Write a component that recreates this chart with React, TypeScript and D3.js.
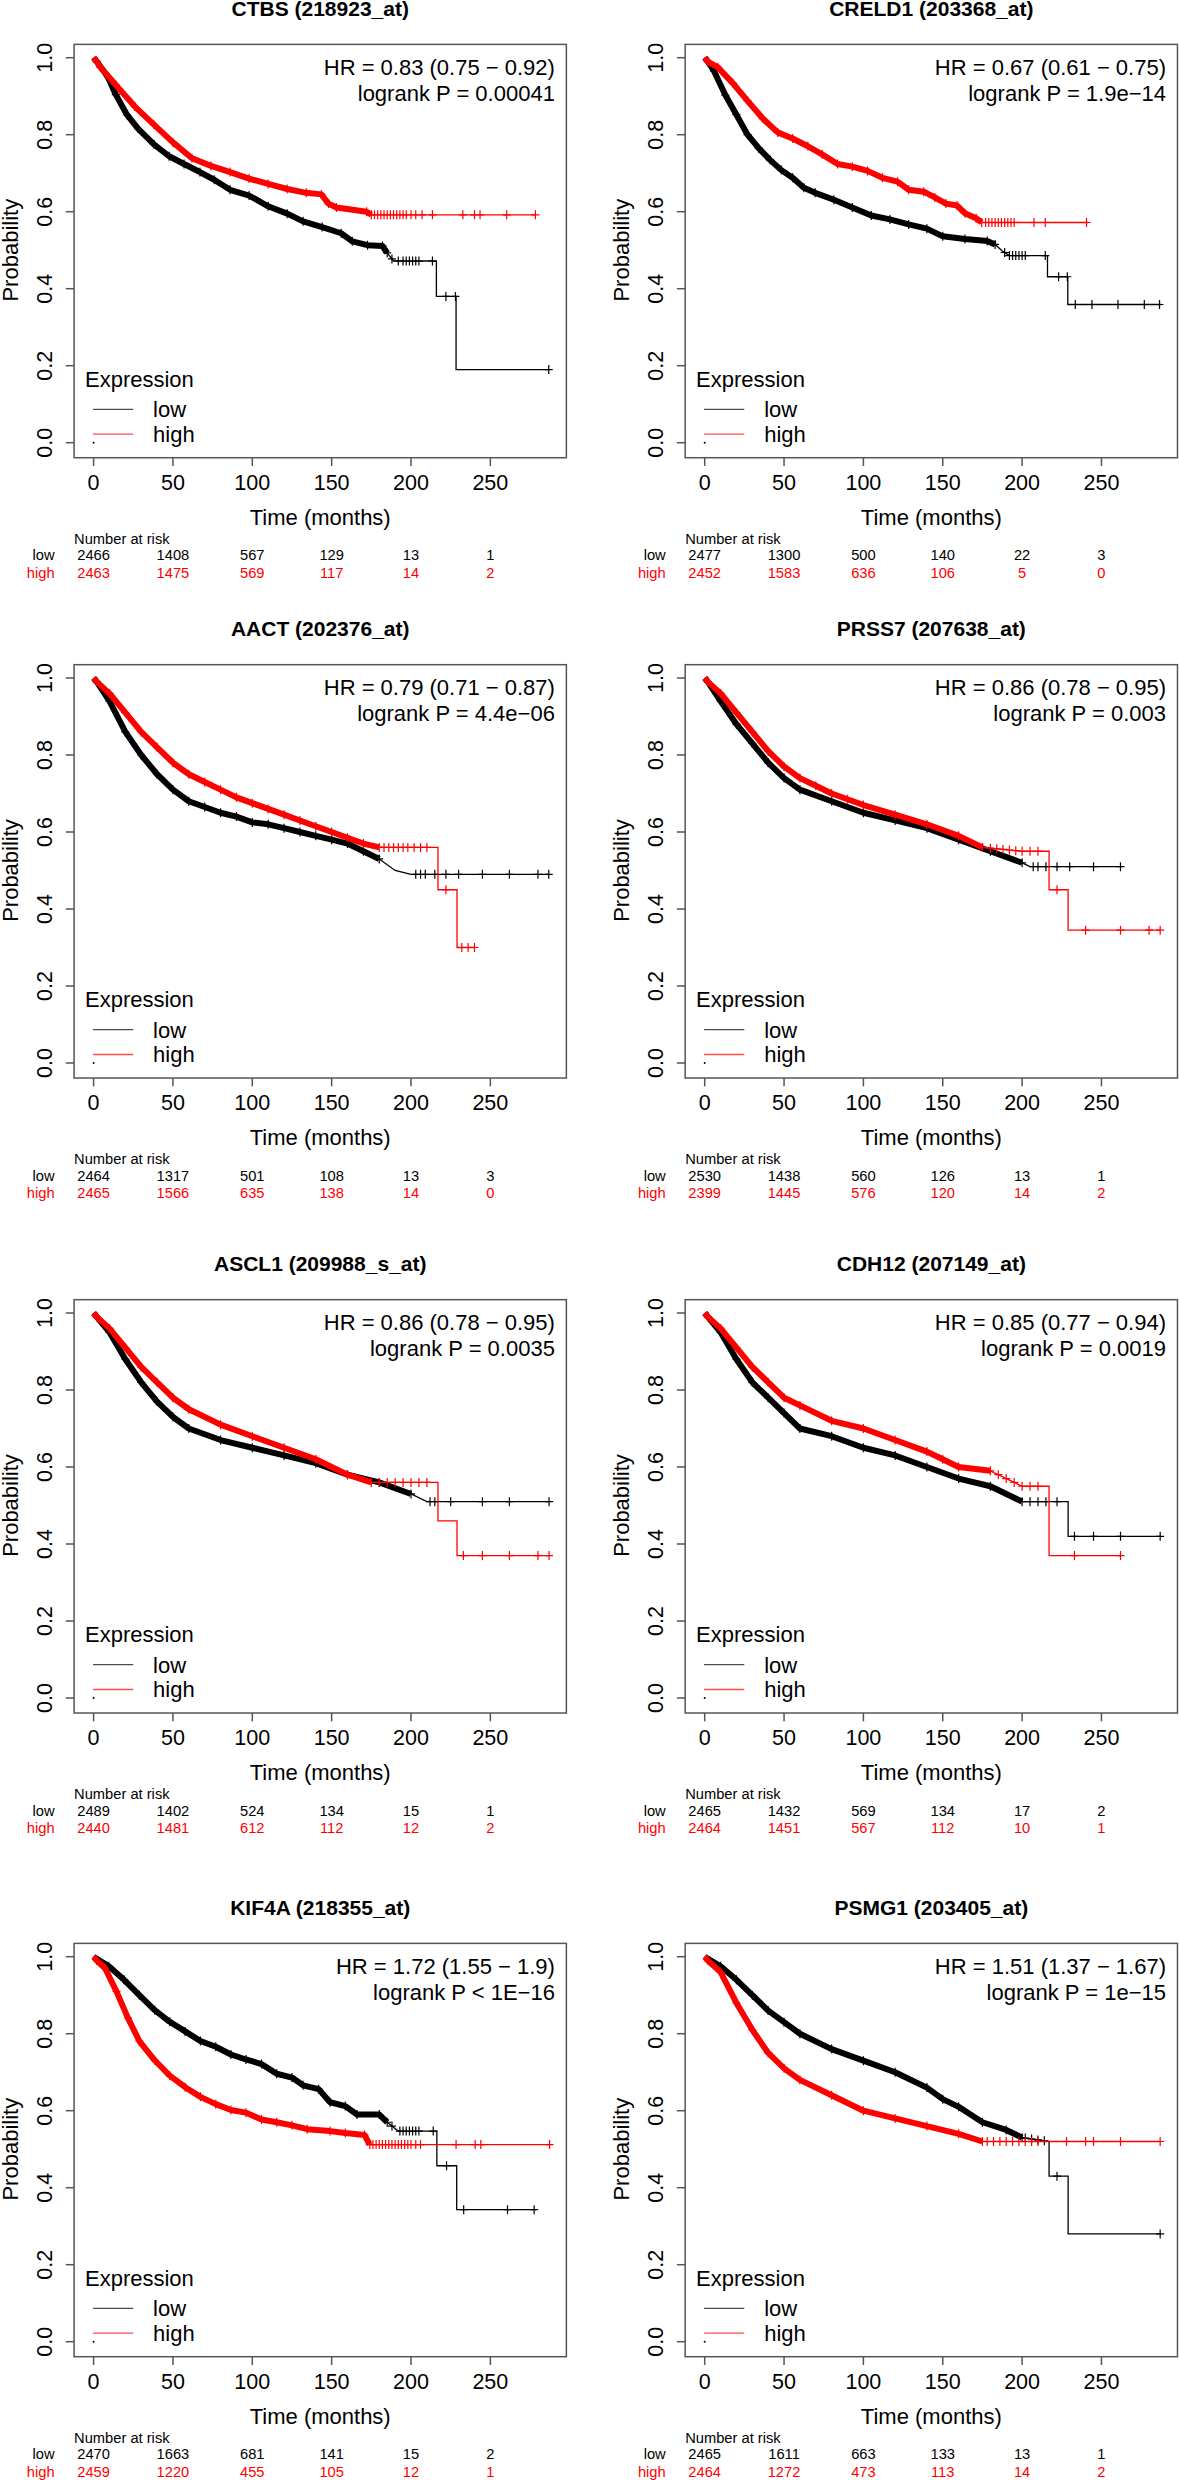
import React from "react";
import * as d3 from "d3";

type Pt = [number, number];

// ---------- text content ----------
const panelTitles = [
  "CTBS (218923_at)",
  "CRELD1 (203368_at)",
  "AACT (202376_at)",
  "PRSS7 (207638_at)",
  "ASCL1 (209988_s_at)",
  "CDH12 (207149_at)",
  "KIF4A (218355_at)",
  "PSMG1 (203405_at)",
];
const hrLabels = [
  "HR = 0.83 (0.75 \u2212 0.92)",
  "HR = 0.67 (0.61 \u2212 0.75)",
  "HR = 0.79 (0.71 \u2212 0.87)",
  "HR = 0.86 (0.78 \u2212 0.95)",
  "HR = 0.86 (0.78 \u2212 0.95)",
  "HR = 0.85 (0.77 \u2212 0.94)",
  "HR = 1.72 (1.55 \u2212 1.9)",
  "HR = 1.51 (1.37 \u2212 1.67)",
];
const pLabels = [
  "logrank P = 0.00041",
  "logrank P = 1.9e\u221214",
  "logrank P = 4.4e\u221206",
  "logrank P = 0.003",
  "logrank P = 0.0035",
  "logrank P = 0.0019",
  "logrank P < 1E\u221216",
  "logrank P = 1e\u221215",
];
const xTicks = [0, 50, 100, 150, 200, 250];
const yTicks = [0, 0.2, 0.4, 0.6, 0.8, 1.0];
const riskTimes = [0, 50, 100, 150, 200, 250];

// ---------- numbers at risk ----------
const riskLow = [
  [2466, 1408, 567, 129, 13, 1],
  [2477, 1300, 500, 140, 22, 3],
  [2464, 1317, 501, 108, 13, 3],
  [2530, 1438, 560, 126, 13, 1],
  [2489, 1402, 524, 134, 15, 1],
  [2465, 1432, 569, 134, 17, 2],
  [2470, 1663, 681, 141, 15, 2],
  [2465, 1611, 663, 133, 13, 1],
];
const riskHigh = [
  [2463, 1475, 569, 117, 14, 2],
  [2452, 1583, 636, 106, 5, 0],
  [2465, 1566, 635, 138, 14, 0],
  [2399, 1445, 576, 120, 14, 2],
  [2440, 1481, 612, 112, 12, 2],
  [2464, 1451, 567, 112, 10, 1],
  [2459, 1220, 455, 105, 12, 1],
  [2464, 1272, 473, 113, 14, 2],
];

// ---------- survival curves (time in months, probability) ----------
// CTBS
const ctbsLow: Pt[] = [[0,1],[2,0.99],[9,0.95],[14,0.904],[21,0.852],[28,0.816],[38,0.775],[47.6,0.744],[57,0.724],[67,0.703],[76,0.683],[86,0.657],[98,0.642],[110,0.614],[122,0.595],[132,0.575],[144,0.56],[156,0.544],[163,0.523],[172.6,0.513],[182,0.511],[185,0.493],[189,0.472],[216,0.472],[216,0.38],[228.4,0.38],[228.4,0.19],[286.8,0.19]];
const ctbsHigh: Pt[] = [[0,1],[2,0.99],[4.3,0.975],[14,0.929],[26,0.873],[38,0.826],[50,0.78],[62,0.739],[74,0.719],[86,0.703],[98,0.686],[110,0.672],[122,0.659],[134,0.649],[143.5,0.645],[148,0.621],[153,0.611],[172,0.6],[175,0.592],[278.4,0.592]];
const ctbsLowCens = [188,192,195,197,199,201,203,205,213.5,222,228,286.8];
const ctbsHighCens = [177,179,181,183,185,187,189,191,193,195,197,200,203,207,213.5,232.7,240,243.5,260.3,278.4];
const ctbsDense = [185, 175];

// CRELD1
const creld1Low: Pt[] = [[0,1],[2,0.99],[5.9,0.965],[13,0.903],[20,0.852],[27,0.8],[34,0.765],[41.3,0.734],[48.3,0.708],[55.4,0.688],[62.5,0.662],[69.6,0.649],[81.4,0.631],[93,0.611],[105,0.59],[116.7,0.58],[128.5,0.567],[140,0.556],[150,0.536],[164,0.529],[178,0.524],[183,0.515],[187.5,0.498],[192,0.486],[216,0.486],[216,0.431],[228.8,0.431],[228.8,0.359],[287.7,0.359]];
const creld1High: Pt[] = [[0,1],[2,0.99],[8.3,0.975],[17.7,0.934],[27,0.888],[36.6,0.842],[46,0.806],[55.4,0.79],[65,0.77],[74,0.749],[83.7,0.724],[93,0.717],[102.6,0.706],[112,0.688],[121.5,0.678],[128.5,0.657],[138,0.652],[145,0.637],[152,0.621],[159,0.616],[164,0.596],[171,0.583],[174.5,0.572],[241.5,0.572]];
const creld1LowCens = [189,192,194,196,198,200,202,214.6,223,228.5,233.5,244,260.4,277,286.6];
const creld1HighCens = [177,179,181,183,185,187,189,191,193,195,207.5,214.6,240.6];
const creld1Dense = [185, 174.5];

// AACT
const aactLow: Pt[] = [[0,1],[2,0.99],[10,0.94],[20,0.86],[30,0.8],[40,0.75],[50,0.71],[60,0.68],[70,0.665],[80,0.65],[90,0.64],[100,0.625],[110,0.62],[120,0.61],[130,0.6],[140,0.59],[150,0.58],[160,0.57],[170,0.55],[180,0.53],[190,0.5],[200,0.49],[286.8,0.49]];
const aactHigh: Pt[] = [[0,1],[2,0.99],[10,0.96],[20,0.91],[30,0.86],[40,0.82],[50,0.78],[60,0.75],[70,0.73],[80,0.71],[90,0.69],[100,0.675],[110,0.66],[120,0.645],[130,0.63],[140,0.615],[150,0.6],[160,0.585],[170,0.57],[180,0.56],[217,0.56],[217,0.45],[229,0.45],[229,0.3],[240,0.3]];
const aactLowCens = [203,206,209,215,222,230,245,262,280,286.8];
const aactHighCens = [183,186,189,192,195,198,202,206,210,222,232,236,240];
const aactDense = [185, 180];

// PRSS7
const prss7Low: Pt[] = [[0,1],[2,0.99],[10,0.94],[20,0.88],[30,0.83],[40,0.78],[50,0.74],[60,0.71],[80,0.68],[100,0.65],[120,0.63],[140,0.61],[160,0.58],[180,0.55],[200,0.52],[205,0.51],[262,0.51]];
const prss7High: Pt[] = [[0,1],[2,0.99],[10,0.96],[20,0.91],[30,0.86],[40,0.81],[50,0.77],[60,0.74],[70,0.72],[80,0.7],[90,0.685],[100,0.67],[120,0.645],[140,0.62],[160,0.59],[175,0.56],[200,0.55],[217,0.55],[217,0.45],[229,0.45],[229,0.345],[287,0.345]];
const prss7LowCens = [207,210,215,222,230,245,262];
const prss7HighCens = [180,184,188,192,196,200,205,210,222,240,262,280,287];
const prss7Dense = [200, 175];

// ASCL1
const ascl1Low: Pt[] = [[0,1],[2,0.99],[10,0.95],[20,0.88],[30,0.82],[40,0.77],[50,0.73],[60,0.7],[80,0.67],[100,0.65],[120,0.63],[140,0.61],[160,0.58],[180,0.56],[200,0.53],[210,0.51],[287,0.51]];
const ascl1High: Pt[] = [[0,1],[2,0.99],[10,0.96],[20,0.91],[30,0.86],[40,0.82],[50,0.78],[60,0.75],[80,0.71],[100,0.68],[120,0.65],[140,0.62],[160,0.58],[175,0.56],[217,0.56],[217,0.46],[229,0.46],[229,0.37],[287,0.37]];
const ascl1LowCens = [212,215,225,245,262,287];
const ascl1HighCens = [180,185,190,195,200,205,210,233,245,262,280,287];
const ascl1Dense = [200, 175];

// CDH12
const cdh12Low: Pt[] = [[0,1],[2,0.99],[10,0.95],[20,0.88],[30,0.82],[40,0.78],[50,0.74],[60,0.7],[80,0.68],[100,0.65],[120,0.63],[140,0.6],[160,0.57],[180,0.55],[200,0.51],[229,0.51],[229,0.42],[287,0.42]];
const cdh12High: Pt[] = [[0,1],[2,0.99],[10,0.96],[20,0.91],[30,0.86],[40,0.82],[50,0.78],[60,0.76],[80,0.72],[100,0.7],[120,0.67],[140,0.64],[150,0.62],[160,0.6],[180,0.59],[200,0.55],[217,0.55],[217,0.37],[262,0.37]];
const cdh12LowCens = [205,210,215,222,233,245,262,287];
const cdh12HighCens = [185,190,195,200,205,210,233,262];
const cdh12Dense = [200, 180];

// KIF4A
const kif4aLow: Pt[] = [[0,1],[9.6,0.975],[19.2,0.94],[28.8,0.9],[38.5,0.861],[48,0.831],[57.7,0.806],[67.3,0.781],[77,0.766],[86.5,0.746],[96,0.733],[105.8,0.721],[115.4,0.696],[125,0.686],[132,0.666],[141.8,0.656],[149,0.622],[158.6,0.612],[166,0.59],[180,0.59],[185,0.57],[192,0.547],[216.3,0.547],[216.3,0.457],[228.8,0.457],[228.8,0.343],[278.8,0.343]];
const kif4aHigh: Pt[] = [[0,1],[2,0.99],[7.2,0.97],[14.4,0.91],[21.6,0.841],[28.8,0.781],[38.5,0.731],[48,0.691],[57.7,0.661],[67.3,0.636],[77,0.617],[86.5,0.602],[96,0.595],[105.8,0.577],[115.4,0.57],[125,0.562],[134.6,0.552],[149,0.547],[158.6,0.542],[170.7,0.537],[174,0.512],[287,0.512]];
const kif4aLowCens = [188,193,195,197,199,201,203,205,214,222.4,233.2,260.8,277.6];
const kif4aHighCens = [176,178,180,182,184,186,188,190,192,194,196,198,200,203,206,228.4,240.4,244,287.3];
const kif4aDense = [185, 174];

// PSMG1
const psmg1Low: Pt[] = [[0,1],[10,0.975],[20,0.94],[30,0.9],[40,0.86],[50,0.83],[60,0.8],[80,0.76],[100,0.73],[120,0.7],[140,0.66],[150,0.63],[160,0.61],[175,0.57],[190,0.55],[200,0.53],[217,0.52],[217,0.43],[229,0.43],[229,0.28],[287,0.28]];
const psmg1High: Pt[] = [[0,1],[2,0.99],[10,0.96],[20,0.88],[30,0.81],[40,0.75],[50,0.71],[60,0.68],[80,0.64],[100,0.6],[120,0.58],[140,0.56],[160,0.54],[175,0.52],[287,0.52]];
const psmg1LowCens = [202,206,210,214,222,287];
const psmg1HighCens = [178,182,186,190,194,198,202,206,210,228,240,245,262,287];
const psmg1Dense = [200, 175];

// ---------- layout ----------
const colX0 = [93.6, 704.7];
const rowY1 = [57.7, 678, 1313, 1956.7];
const FONT = "'Liberation Sans', Arial, Helvetica, sans-serif";

const panels = [
  { low: ctbsLow, high: ctbsHigh, lowCens: ctbsLowCens, highCens: ctbsHighCens, dense: ctbsDense },
  { low: creld1Low, high: creld1High, lowCens: creld1LowCens, highCens: creld1HighCens, dense: creld1Dense },
  { low: aactLow, high: aactHigh, lowCens: aactLowCens, highCens: aactHighCens, dense: aactDense },
  { low: prss7Low, high: prss7High, lowCens: prss7LowCens, highCens: prss7HighCens, dense: prss7Dense },
  { low: ascl1Low, high: ascl1High, lowCens: ascl1LowCens, highCens: ascl1HighCens, dense: ascl1Dense },
  { low: cdh12Low, high: cdh12High, lowCens: cdh12LowCens, highCens: cdh12HighCens, dense: cdh12Dense },
  { low: kif4aLow, high: kif4aHigh, lowCens: kif4aLowCens, highCens: kif4aHighCens, dense: kif4aDense },
  { low: psmg1Low, high: psmg1High, lowCens: psmg1LowCens, highCens: psmg1HighCens, dense: psmg1Dense },
];

function valueAt(pts: Pt[], t: number): number {
  for (let i = 0; i < pts.length - 1; i++) {
    const a = pts[i], b = pts[i + 1];
    if (a[0] <= t && t < b[0]) {
      return a[1] + ((b[1] - a[1]) * (t - a[0])) / (b[0] - a[0]);
    }
  }
  return pts[pts.length - 1][1];
}

function plus(cx: number, cy: number, w = 4, h = 4.5) {
  return `M${cx - w},${cy}h${2 * w}M${cx},${cy - h}v${2 * h}`;
}

function Curve({ pts, cens, dense, color, x, y }: any) {
  const line = d3.line<Pt>().x((p) => x(p[0])).y((p) => y(p[1]));
  const densePts = pts.filter((p: Pt) => p[0] <= dense);
  const vertexMarks = densePts.slice(1).map((p: Pt) => plus(x(p[0]), y(p[1]))).join("");
  const censMarks = cens.map((t: number) => plus(x(t), y(valueAt(pts, t)))).join("");
  return (
    <g>
      <path d={line(pts) || ""} fill="none" stroke={color} strokeWidth={1.3} />
      <path d={line(densePts) || ""} fill="none" stroke={color} strokeWidth={6} strokeLinejoin="round" />
      <path d={vertexMarks} fill="none" stroke={color} strokeWidth={1.2} />
      <path d={censMarks} fill="none" stroke={color} strokeWidth={1.2} />
    </g>
  );
}

function Panel({ idx }: { idx: number }) {
  const col = idx % 2;
  const row = Math.floor(idx / 2);
  const x0 = colX0[col];
  const y1 = rowY1[row];
  const p = panels[idx];
  const x = d3.scaleLinear().domain([0, 250]).range([x0, x0 + 396.75]);
  const y = d3.scaleLinear().domain([0, 1]).range([y1 + 385, y1]);
  const y0 = y(0);
  const boxL = x(-12.3), boxR = x(297.9), boxT = y(1.0346), boxB = y(-0.039);
  const cx = (boxL + boxR) / 2;
  const axisColor = "#555";
  return (
    <g fontFamily={FONT}>
      <text x={cx} y={y1 - 42} textAnchor="middle" fontWeight="bold" fontSize={21}>
        {panelTitles[idx]}
      </text>
      <rect x={boxL} y={boxT} width={boxR - boxL} height={boxB - boxT} fill="none" stroke={axisColor} strokeWidth={1.5} />
      {xTicks.map((t) => (
        <g key={"xt" + t}>
          <line x1={x(t)} x2={x(t)} y1={boxB} y2={boxB + 8.3} stroke={axisColor} strokeWidth={1.5} />
          <text x={x(t)} y={y0 + 47.2} textAnchor="middle" fontSize={21.5}>
            {t}
          </text>
        </g>
      ))}
      {yTicks.map((v) => (
        <g key={"yt" + v}>
          <line x1={boxL} x2={boxL - 8.3} y1={y(v)} y2={y(v)} stroke={axisColor} strokeWidth={1.5} />
          <text transform={`translate(${x0 - 41.5},${y(v)}) rotate(-90)`} textAnchor="middle" fontSize={21.5}>
            {v.toFixed(1)}
          </text>
        </g>
      ))}
      <text transform={`translate(${x0 - 76},${y(0.5)}) rotate(-90)`} textAnchor="middle" fontSize={22}>
        Probability
      </text>
      <text x={cx} y={y0 + 82.3} textAnchor="middle" fontSize={22}>
        Time (months)
      </text>
      <Curve pts={p.low} cens={p.lowCens} dense={p.dense[0]} color="#000" x={x} y={y} />
      <Curve pts={p.high} cens={p.highCens} dense={p.dense[1]} color="#ff0000" x={x} y={y} />
      <circle cx={x(0)} cy={y0} r={1} fill="#000" />
      <text x={x0 - 8.6} y={y0 - 56} fontSize={22}>
        Expression
      </text>
      <line x1={x0 - 0.6} x2={x0 + 39.6} y1={y0 - 33.4} y2={y0 - 33.4} stroke="#000" strokeOpacity={0.7} strokeWidth={1.3} />
      <line x1={x0 - 0.6} x2={x0 + 39.6} y1={y0 - 8.5} y2={y0 - 8.5} stroke="#ff0000" strokeOpacity={0.7} strokeWidth={1.3} />
      <text x={x0 + 59.5} y={y0 - 25.5} fontSize={22}>
        low
      </text>
      <text x={x0 + 59.5} y={y0 - 0.7} fontSize={22}>
        high
      </text>
      <text x={x0 + 461.3} y={y1 + 17} textAnchor="end" fontSize={22}>
        {hrLabels[idx]}
      </text>
      <text x={x0 + 461.3} y={y1 + 43} textAnchor="end" fontSize={22}>
        {pLabels[idx]}
      </text>
      <text x={boxL} y={y0 + 101} fontSize={14.7}>
        Number at risk
      </text>
      <text x={x0 - 39} y={y0 + 117.5} textAnchor="end" fontSize={14.7}>
        low
      </text>
      <text x={x0 - 39} y={y0 + 135.3} textAnchor="end" fontSize={14.7} fill="#ff0000">
        high
      </text>
      {riskTimes.map((t, i) => (
        <g key={"r" + t}>
          <text x={x(t)} y={y0 + 117.5} textAnchor="middle" fontSize={14.7}>
            {riskLow[idx][i]}
          </text>
          <text x={x(t)} y={y0 + 135.3} textAnchor="middle" fontSize={14.7} fill="#ff0000">
            {riskHigh[idx][i]}
          </text>
        </g>
      ))}
    </g>
  );
}

export default function App() {
  return (
    <svg
      width={1179}
      height={2480}
      viewBox="0 0 1179 2480"
      style={{ position: "absolute", left: 0, top: 0, background: "#fff" }}
    >
      <rect x={0} y={0} width={1179} height={2480} fill="#fff" />
      {panels.map((_, i) => (
        <Panel key={i} idx={i} />
      ))}
    </svg>
  );
}
